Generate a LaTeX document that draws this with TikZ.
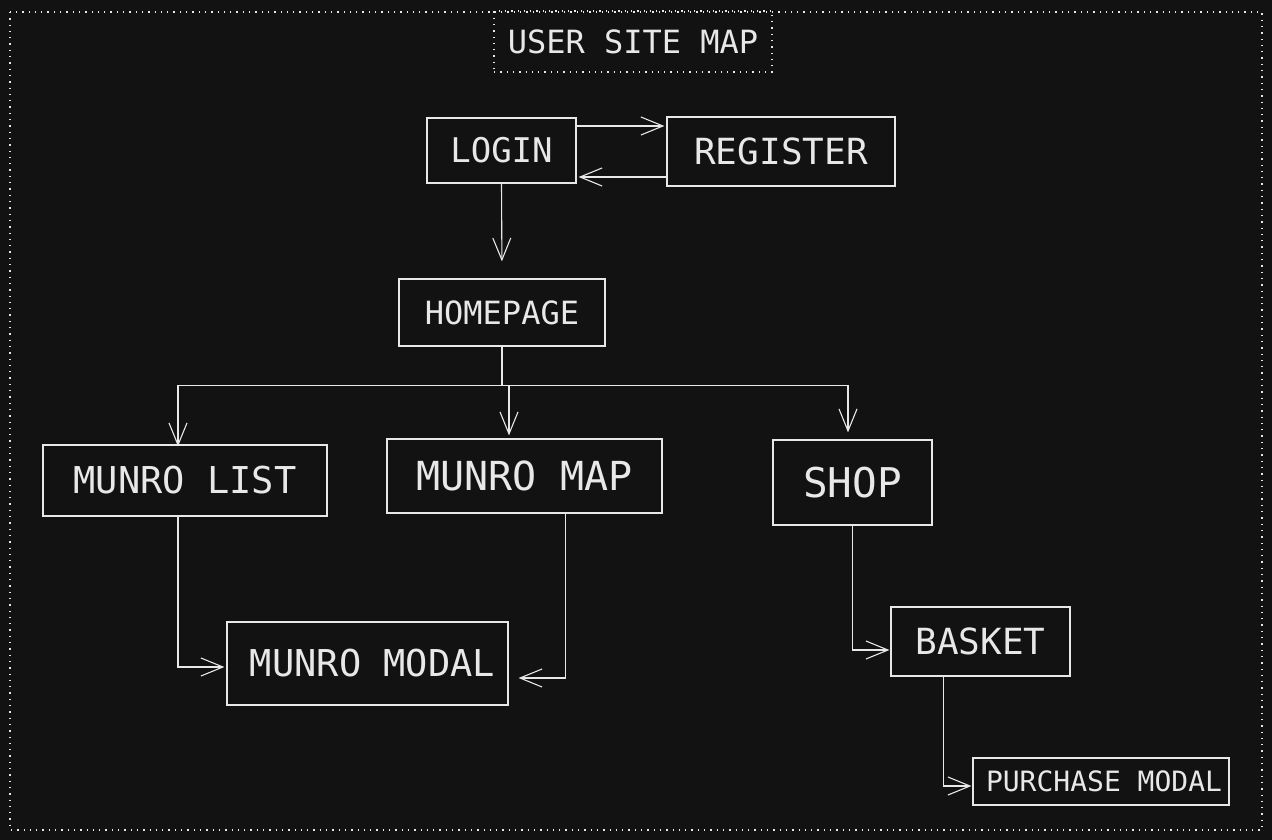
\documentclass[tikz,border=0pt]{standalone}
\usepackage{fontspec}
\setmainfont{DejaVu Sans Mono}
\usetikzlibrary{arrows.meta}
\definecolor{bg}{RGB}{18,18,18}
\definecolor{ink}{RGB}{232,232,232}
\newcommand{\fs}[1]{\fontsize{#1}{#1}\selectfont}
\begin{document}
\begin{tikzpicture}[x=1pt,y=-1pt,>={Straight Barb[length=22pt,width=18pt]},
    box/.style={draw=ink,line width=1.2pt,text=ink,inner sep=0pt},
    dots/.style={line width=1.3pt,dash pattern=on 1.3pt off 5pt},
    link/.style={->,draw=ink,line width=1.1pt}]
        \fill[bg] (0,0) rectangle (1272,840);
        \useasboundingbox (0,0) rectangle (1272,840);
        \draw[ink,dots] (10,12) rectangle (1262,830);
        \node[box,dots,minimum width=278pt,minimum height=61pt] (title) at (633,41.5){\fs{32}USER SITE MAP};
        \node[box,minimum width=149pt,minimum height=65pt] (login) at (501.5,150.5){\fs{34}LOGIN};
        \node[box,minimum width=228pt,minimum height=69pt] (register) at (781,151.5){\fs{36}REGISTER};
        \node[box,minimum width=206pt,minimum height=67pt] (homepage) at (502,312.5){\fs{32}HOMEPAGE};
        \node[box,minimum width=284pt,minimum height=71pt] (list) at (185,480.5){\fs{37}MUNRO LIST};
        \node[box,minimum width=275pt,minimum height=74pt] (map) at (524.5,476){\fs{40}MUNRO MAP};
        \node[box,minimum width=159pt,minimum height=85pt] (shop) at (852.5,482.5){\fs{41}SHOP};
        \node[box,minimum width=281pt,minimum height=83pt] (modal) at (367.5,663.5){\hspace{10pt}\fs{37}MUNRO MODAL};
        \node[box,minimum width=179pt,minimum height=69pt] (basket) at (980.5,641.5){\fs{36}BASKET};
        \node[box,minimum width=256pt,minimum height=47pt] (purchase) at (1101,781.5){\hspace{6pt}\fs{28}PURCHASE MODAL};
        % login / register
        \draw[link,shorten >=2pt] ([yshift=24.5pt]login.east) -- ([yshift=24.5pt]login.east -| register.west);
        \draw[link,shorten >=2pt] ([yshift=-25.5pt]register.west) -- ([yshift=-25.5pt]register.west -| login.east);
        \draw[link,shorten >=17pt] (login.south) -- (homepage.north);
        % homepage branches
        \draw[link,shorten >=-2pt] (homepage.south) -- ++(0,39) -| ([xshift=-7pt]list.north);
        \draw[link,shorten >=3pt] (homepage.south) -- ++(0,39) -| ([xshift=-15.5pt]map.north);
        \draw[link,shorten >=7pt] (homepage.south) -- ++(0,39) -| ([xshift=-4.5pt]shop.north);
        % modals
        \draw[link,shorten >=2pt] ([xshift=-7pt]list.south) |- ([yshift=-3.5pt]modal.west);
        \draw[link,shorten >=10pt] ([xshift=41pt]map.south) |- ([yshift=-14.5pt]modal.east);
        \draw[link,shorten >=1pt] (shop.south) |- ([yshift=-8.5pt]basket.west);
        \draw[link,shorten >=1pt] ([xshift=-37pt]basket.south) |- ([yshift=-4.5pt]purchase.west);
    \end{tikzpicture}
\end{document}
